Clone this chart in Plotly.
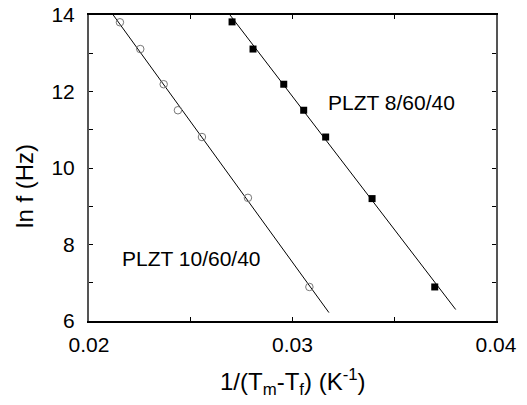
import plotly.graph_objects as go

# PLZT 10/60/40 (open circles)
x_10 = [0.02152, 0.02252, 0.02367, 0.02437, 0.02555, 0.02781, 0.03083]
y_10 = [13.81, 13.11, 12.19, 11.51, 10.81, 9.22, 6.89]
fit_x_10 = [0.02119, 0.03179]
fit_y_10 = [14.0, 6.22]

# PLZT 8/60/40 (filled squares)
x_8 = [0.02703, 0.02806, 0.02957, 0.03055, 0.03163, 0.03391, 0.03699]
y_8 = [13.82, 13.11, 12.19, 11.51, 10.81, 9.20, 6.89]
fit_x_8 = [0.02693, 0.03802]
fit_y_8 = [14.0, 6.30]

x_tickvals = [0.02, 0.03, 0.04]
x_ticktext = ["0.02", "0.03", "0.04"]
y_tickvals = [6, 8, 10, 12, 14]
y_ticktext = ["6", "8", "10", "12", "14"]

FONT = "Liberation Sans, Arial, sans-serif"

fig = go.Figure()
fig.add_trace(go.Scatter(x=fit_x_10, y=fit_y_10, mode="lines",
                         line=dict(color="black", width=1), showlegend=False))
fig.add_trace(go.Scatter(x=fit_x_8, y=fit_y_8, mode="lines",
                         line=dict(color="black", width=1), showlegend=False))
fig.add_trace(go.Scatter(x=x_10, y=y_10, mode="markers",
                         marker=dict(symbol="circle-open", size=7.5, color="#777777",
                                     line=dict(width=1, color="#777777")),
                         showlegend=False))
fig.add_trace(go.Scatter(x=x_8, y=y_8, mode="markers",
                         marker=dict(symbol="square", size=7, color="black"),
                         showlegend=False))

fig.update_layout(
    width=527, height=405,
    margin=dict(l=89, r=31, t=15, b=84),
    paper_bgcolor="white", plot_bgcolor="white",
    font=dict(family=FONT, size=21, color="black"),
    xaxis=dict(range=[0.02, 0.04], tickvals=x_tickvals, ticktext=x_ticktext,
               ticks="inside", ticklen=4, tickcolor="black", tickwidth=1,
               minor=dict(dtick=0.005, tick0=0.02, ticks="inside", ticklen=4,
                          tickcolor="black", tickwidth=1, showgrid=False),
               showline=True, linecolor="black", linewidth=2, mirror="ticks",
               showgrid=False, zeroline=False, ticklabelstandoff=4,
               automargin=False),
    yaxis=dict(range=[6, 14], tickvals=y_tickvals, ticktext=y_ticktext,
               ticks="inside", ticklen=4, tickcolor="black", tickwidth=1,
               minor=dict(dtick=1, tick0=6, ticks="inside", ticklen=4,
                          tickcolor="black", tickwidth=1, showgrid=False),
               showline=True, linecolor="#555555", linewidth=2, mirror="ticks",
               showgrid=False, zeroline=False, ticklabelstandoff=8,
               automargin=False),
    annotations=[
        dict(text="PLZT 8/60/40", x=0.03487, y=11.71, xref="x", yref="y",
             showarrow=False, font=dict(size=21)),
        dict(text="PLZT 10/60/40", x=0.02506, y=7.64, xref="x", yref="y",
             showarrow=False, font=dict(size=21)),
        dict(text="ln f (Hz)", textangle=-90, x=-0.16, y=0.441,
             xanchor="center", yanchor="middle",
             xref="paper", yref="paper", showarrow=False, font=dict(size=24)),
        dict(text="1/(T<sub>m</sub>-T<sub>f</sub>) (K<sup>-1</sup>)", x=0.5, y=-0.2,
             xanchor="center", yanchor="middle",
             xref="paper", yref="paper", showarrow=False, font=dict(size=24)),
    ],
)

fig.write_html("out.html", config={"displayModeBar": False},
               post_script="document.body.style.margin='0';document.body.style.overflow='hidden';")
